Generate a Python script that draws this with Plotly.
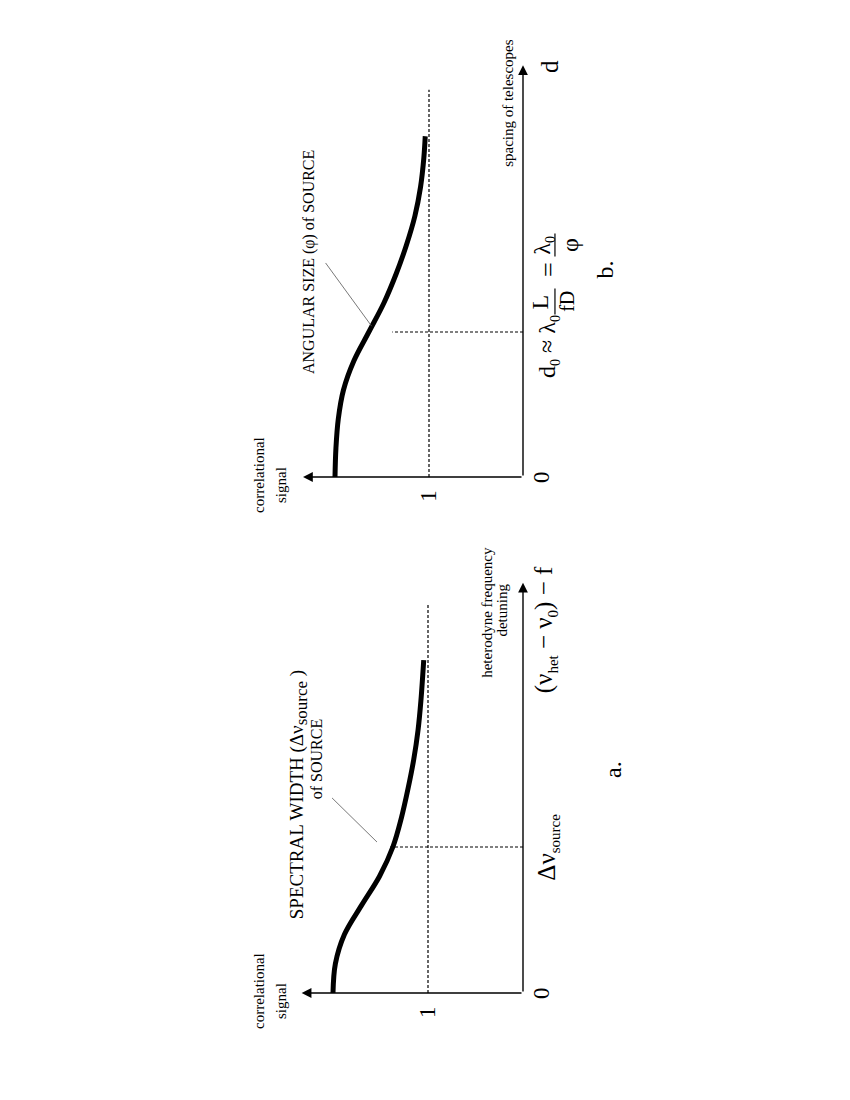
import plotly.graph_objects as go

# ---- data (diagram units) ----
# panel a: correlational signal vs heterodyne frequency detuning (units of delta-nu source)
a_detuning = [0, 0.2, 0.4, 0.6, 0.8, 1.0, 1.2, 1.4, 1.6, 1.8, 2.0, 2.28]
a_signal = [2.0, 1.975, 1.88, 1.70, 1.51, 1.37, 1.28, 1.21, 1.15, 1.105, 1.075, 1.045]
a_width = 1.0          # delta-nu source marker
a_width_signal = 1.40  # where the dashed marker stops

# panel b: correlational signal vs spacing of telescopes (units of d0)
b_spacing = [0, 0.2, 0.4, 0.6, 0.8, 1.0, 1.2, 1.4, 1.6, 1.8, 2.0, 2.2, 2.35]
b_signal = [2.0, 1.99, 1.965, 1.91, 1.80, 1.64, 1.48, 1.35, 1.24, 1.15, 1.09, 1.055, 1.04]
b_d0 = 1.0
b_d0_signal = 1.39

baseline = 1.0  # the "1" level

W, H = 850, 1100
OFF = 8  # page body margin
FONT = "Liberation Serif"

# pixel geometry of each (rotated) panel: origin, px per unit, vertical extent
panels = {
    "a": dict(xa="x", ya="y", ox=523, oy=993, sx=95, sy=146, top=540, bot=1060,
              u_tip=2.81, s_tip=2.33, dash_end=2.66),
    "b": dict(xa="x2", ya="y2", ox=523, oy=477, sx=94, sy=145, top=20, bot=530,
              u_tip=2.84, s_tip=2.34, dash_end=2.67),
}
left, right = 220, 650

fig = go.Figure()
annotations = []


def line(p, xs, ys, width=1.2, dash=None, color="black", shape="linear"):
    fig.add_trace(go.Scatter(
        x=xs, y=ys, mode="lines", xaxis=p["xa"], yaxis=p["ya"],
        line=dict(color=color, width=width, dash=dash, shape=shape, smoothing=1.0),
        hoverinfo="skip", showlegend=False))


def arrow(p, x, y):
    annotations.append(dict(
        x=x, y=y, ax=0, ay=0, xref=p["xa"], yref=p["ya"], axref=p["xa"], ayref=p["ya"],
        text="", showarrow=True, arrowhead=2, arrowsize=1.4, arrowwidth=1.4,
        arrowcolor="black"))


def label(p, s, u, text, size):
    annotations.append(dict(
        x=s, y=u, xref=p["xa"], yref=p["ya"], text=text, showarrow=False,
        textangle=-90, xanchor="center", yanchor="middle",
        font=dict(family=FONT, size=size, color="black")))


for key, p in panels.items():
    # axes with arrow heads
    arrow(p, 0, p["u_tip"])
    arrow(p, p["s_tip"], 0)
    # level "1"
    line(p, [baseline, baseline], [0, p["dash_end"]], dash="3px,2px")
    sc = lambda px: (p["ox"] - px) / p["sx"]
    uc = lambda py: (p["oy"] - py) / p["sy"]
    label(p, sc(259), uc(p["oy"] - 2), "correlational", 15)
    label(p, sc(281), uc(p["oy"] + 8), "signal", 15)
    label(p, baseline, -0.13, "1", 23)
    label(p, sc(541), 0, "0", 23)

pa, pb = panels["a"], panels["b"]

# panel a
line(pa, [0, a_width_signal], [a_width, a_width], dash="3px,2px")
line(pa, a_signal, a_detuning, width=5, shape="spline")
line(pa, [2.01, 1.537], [1.336, 1.034], width=0.8, color="#555")
label(pa, 2.36, 1.36,
      "SPECTRAL WIDTH (Δν<sub><span style='font-size:17px'>source</span></sub> )", 19)
label(pa, 2.17, 1.60, "of SOURCE", 16)
label(pa, -0.26, a_width, "Δν<sub><span style='font-size:15px'>source</span></sub>", 25)
label(pa, 0.38, 2.61, "heterodyne frequency", 15)
label(pa, 0.22, 2.62, "detuning", 15)
label(pa, -0.24, 2.49,
      "(ν<sub><span style='font-size:15px'>het</span></sub> − ν<sub><span style='font-size:15px'>0</span></sub>) − f", 25)
label(pa, -0.94, 1.53, "a.", 24)

# panel b
line(pb, [0, b_d0_signal], [b_d0, b_d0], dash="3px,2px")
line(pb, b_signal, b_spacing, width=5, shape="spline")
line(pb, [2.10, 1.61], [1.476, 1.04], width=0.8, color="#555")
label(pb, 2.27, 1.48, "ANGULAR SIZE (φ) of SOURCE", 16)
label(pb, 0.16, 2.58, "spacing of telescopes", 15)
label(pb, -0.28, 2.83, "d", 25)
# d0 = lambda0 L / fD = lambda0 / phi
label(pb, -0.27, 0.90, "d<sub><span style='font-size:14px'>0</span></sub> ≈ λ<sub><span style='font-size:14px'>0</span></sub>", 24)
label(pb, -0.18, 1.21, "L", 24)
line(pb, [-0.34, -0.34], [1.12, 1.30], width=1.2)
label(pb, -0.46, 1.21, "fD", 20)
label(pb, -0.27, 1.43, "=", 26)
label(pb, -0.21, 1.60, "λ<sub><span style='font-size:14px'>0</span></sub>", 24)
line(pb, [-0.34, -0.34], [1.52, 1.68], width=1.2)
label(pb, -0.50, 1.60, "φ", 24)
label(pb, -0.87, 1.43, "b.", 24)

layout_axes = {}
for i, (key, p) in enumerate(panels.items()):
    sfx = "" if i == 0 else str(i + 1)
    ox, oy = p["ox"] - OFF, p["oy"] - OFF
    layout_axes["xaxis" + sfx] = dict(
        domain=[left / W, right / W],
        range=[(ox - left) / p["sx"], (ox - right) / p["sx"]],
        visible=False, anchor="y" + sfx)
    layout_axes["yaxis" + sfx] = dict(
        domain=[1 - p["bot"] / H, 1 - p["top"] / H],
        range=[(oy - p["bot"]) / p["sy"], (oy - p["top"]) / p["sy"]],
        visible=False, anchor="x" + sfx)

fig.update_layout(
    width=W, height=H,
    margin=dict(l=0, r=0, t=0, b=0),
    paper_bgcolor="white", plot_bgcolor="white",
    showlegend=False,
    annotations=annotations,
    **layout_axes,
)

fig.write_html("out.html")
